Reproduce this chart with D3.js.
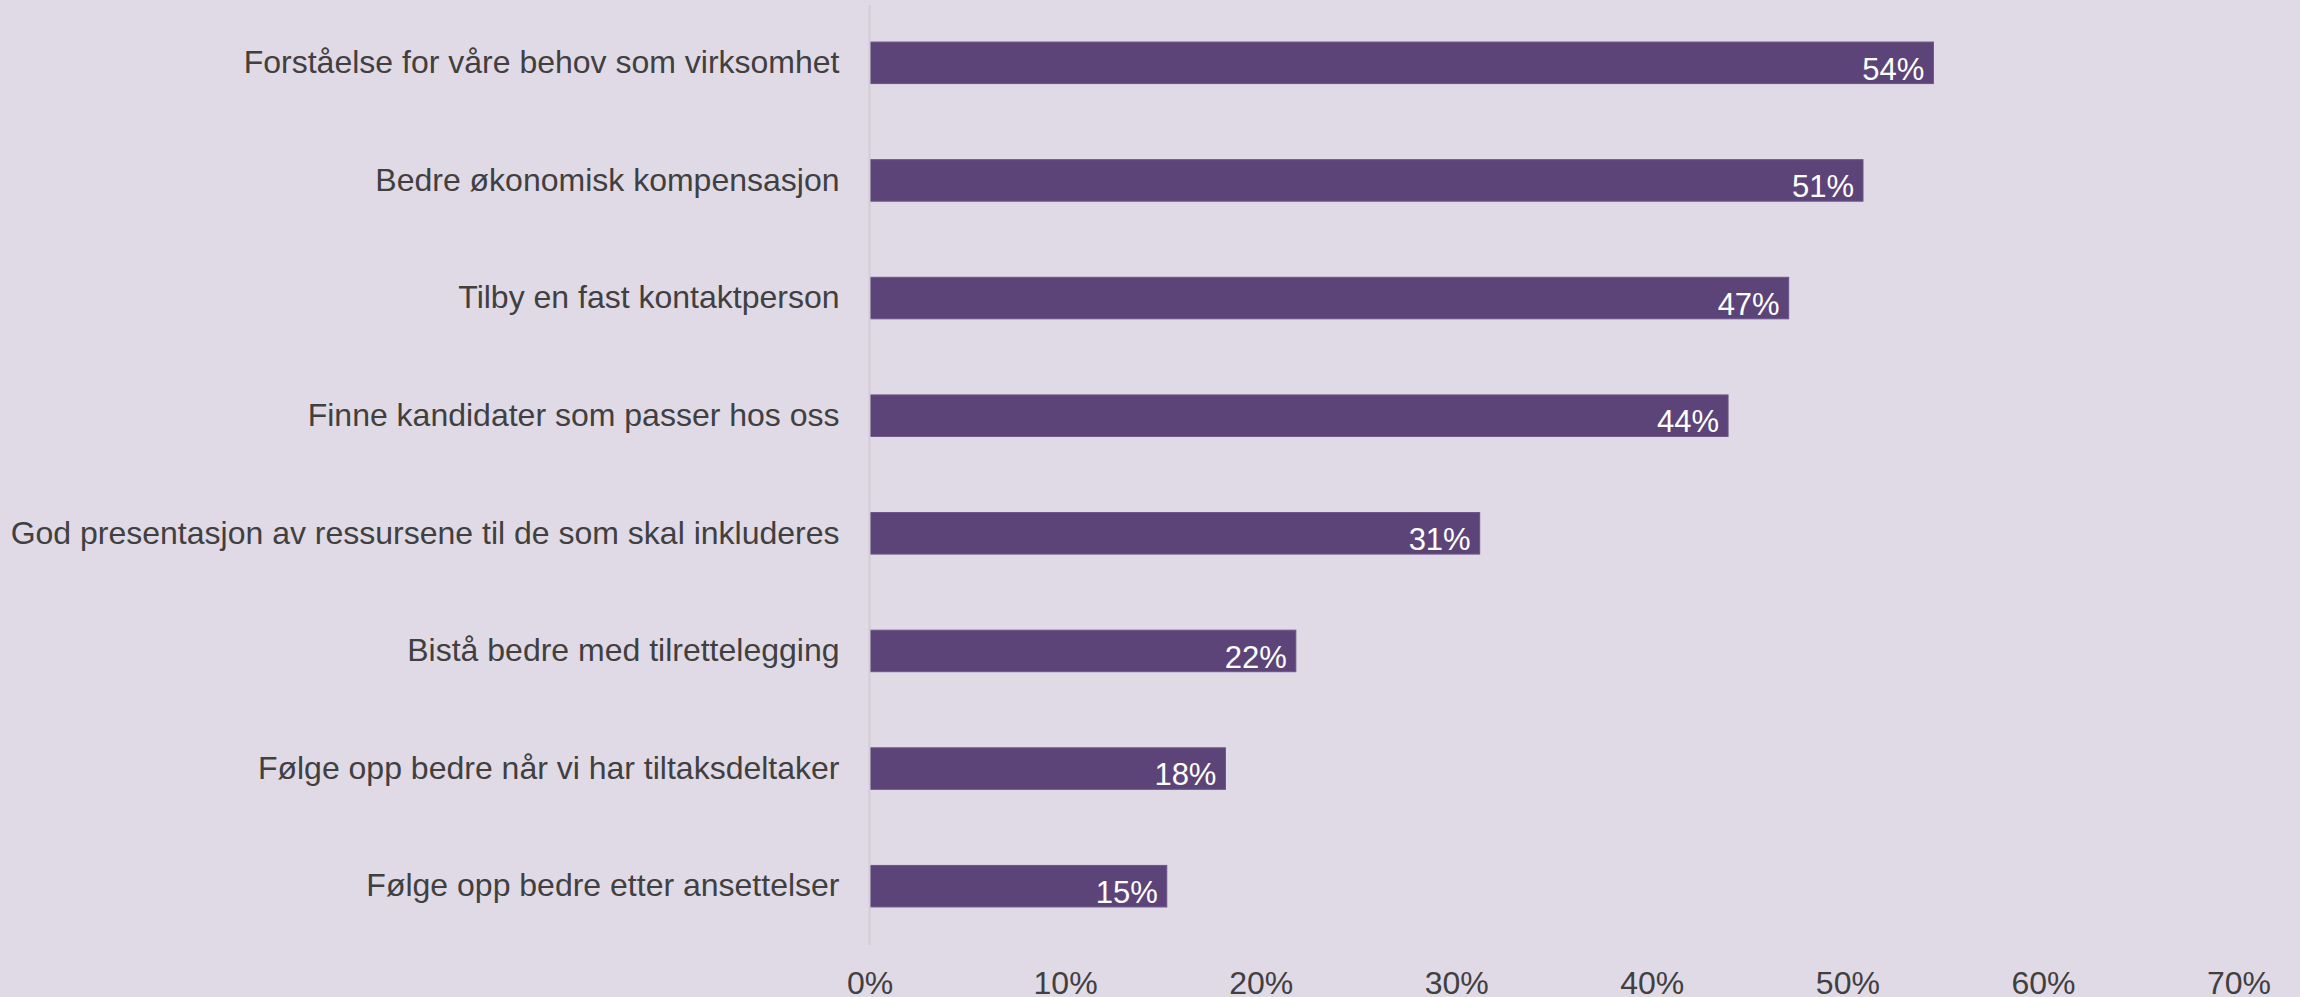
<!DOCTYPE html>
<html>
<head>
<meta charset="utf-8">
<script src="https://cdn.jsdelivr.net/npm/d3@7"></script>
<style>
  html, body { margin: 0; padding: 0; background: #e0dae6; overflow: hidden; }
  text { font-family: "Liberation Sans", Arial, sans-serif; }
</style>
</head>
<body>
<div id="chart"></div>
<script>
// data
var categories = [
    "Forståelse for våre behov som virksomhet",
    "Bedre økonomisk kompensasjon",
    "Tilby en fast kontaktperson",
    "Finne kandidater som passer hos oss",
    "God presentasjon av ressursene til de som skal inkluderes",
    "Bistå bedre med tilrettelegging",
    "Følge opp bedre når vi har tiltaksdeltaker",
    "Følge opp bedre etter ansettelser"
];
var values = [0.544, 0.508, 0.470, 0.439, 0.312, 0.218, 0.182, 0.152];
var tickValues = [0, 0.1, 0.2, 0.3, 0.4, 0.5, 0.6, 0.7];

var svgWidth = 2300;
var svgHeight = 997;

var svg = d3.select("#chart")
    .append("svg")
    .attr("width", svgWidth)
    .attr("height", svgHeight);

svg.append("rect")
    .attr("width", svgWidth)
    .attr("height", svgHeight)
    .attr("fill", "#e0dae6");

// scales
var x = d3.scaleLinear()
    .domain([0, 0.7])
    .range([869.5, 2238.5]);

var y = d3.scaleBand()
    .domain(categories)
    .range([4, 945])
    .paddingInner(0.647)
    .paddingOuter(0.3235);

var fmt = d3.format(".0%");

// bars
svg.selectAll("rect.bar")
    .data(values)
    .enter()
    .append("rect")
    .attr("class", "bar")
    .attr("x", x(0))
    .attr("y", (d, i) => y(categories[i]))
    .attr("width", d => x(d) - x(0))
    .attr("height", y.bandwidth())
    .attr("fill", "#5c4479")
    .attr("stroke", "#6b5589")
    .attr("stroke-width", 1);

// value labels inside bar end
svg.selectAll("text.val")
    .data(values)
    .enter()
    .append("text")
    .attr("class", "val")
    .attr("x", d => x(d) - 9)
    .attr("y", (d, i) => y(categories[i]) + y.bandwidth() / 2)
    .attr("dy", "0.54em")
    .attr("text-anchor", "end")
    .attr("fill", "#ffffff")
    .style("font-size", "31px")
    .text(d => fmt(d));

// category axis
var leftAxis = d3.axisLeft(y).tickSize(0).tickPadding(30);
var gy = svg.append("g")
    .attr("transform", `translate(${x(0)},0)`)
    .call(leftAxis);
gy.select(".domain")
    .attr("stroke", "#d2ccd6")
    .attr("stroke-width", 2)
    .attr("d", "M0,5V945");
gy.selectAll("text")
    .attr("fill", "#404040")
    .style("font-size", "32px")
    .style("font-family", "'Liberation Sans', Arial, sans-serif");

// value axis (labels only)
var bottomAxis = d3.axisBottom(x)
    .tickValues(tickValues)
    .tickFormat(fmt)
    .tickSize(0)
    .tickPadding(26);
var gx = svg.append("g")
    .attr("transform", "translate(0,945)")
    .call(bottomAxis);
gx.select(".domain").remove();
gx.selectAll("text")
    .attr("fill", "#404040")
    .style("font-size", "32px")
    .style("font-family", "'Liberation Sans', Arial, sans-serif");
</script>
</body>
</html>
